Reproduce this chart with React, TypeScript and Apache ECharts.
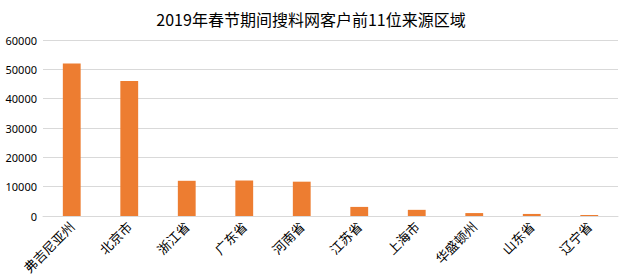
import React, { useEffect, useRef } from "react";
import * as echarts from "echarts";

const titleText = "2019年春节期间搜料网客户前11位来源区域";
const categories = ["弗吉尼亚州", "北京市", "浙江省", "广东省", "河南省", "江苏省", "上海市", "华盛顿州", "山东省", "辽宁省"];
const values = [52000, 46000, 12000, 12100, 11700, 3100, 2100, 1000, 700, 350];
const yTicks = { min: 0, max: 60000, interval: 10000 };

export default function App() {
  const ref = useRef<HTMLDivElement>(null);
  useEffect(() => {
    if (!ref.current) return;
    const chart = echarts.init(ref.current, undefined, { renderer: "svg" });
    chart.setOption({
      animation: false,
      backgroundColor: "#ffffff",
      title: {
        text: titleText,
        left: "center",
        top: 6,
        textStyle: {
          fontSize: 16,
          fontWeight: "normal",
          color: "#000000",
          fontFamily: "Noto Sans CJK SC",
        },
      },
      grid: { left: 43, right: 4, top: 40, bottom: 62 },
      xAxis: {
        type: "category",
        data: categories,
        axisLine: { show: true, lineStyle: { color: "#d9d9d9", width: 1 } },
        axisTick: { show: false },
        axisLabel: {
          rotate: 45,
          interval: 0,
          margin: 8,
          fontSize: 13,
          color: "#000000",
          fontFamily: "Noto Sans CJK SC",
        },
      },
      yAxis: {
        type: "value",
        min: yTicks.min,
        max: yTicks.max,
        interval: yTicks.interval,
        axisLine: { show: false },
        axisTick: { show: false },
        splitLine: { lineStyle: { color: "#d9d9d9", width: 1 } },
        axisLabel: {
          fontSize: 11,
          color: "#000000",
          margin: 6,
          fontFamily: "Noto Sans",
          formatter: (v: number) => String(v),
        },
      },
      series: [
        {
          type: "bar",
          data: values,
          barWidth: "31%",
          itemStyle: { color: "#ED7D31" },
        },
      ],
    });
    return () => chart.dispose();
  }, []);
  return <div ref={ref} style={{ width: 622, height: 278, position: "absolute", left: 0, top: 0 }} />;
}
